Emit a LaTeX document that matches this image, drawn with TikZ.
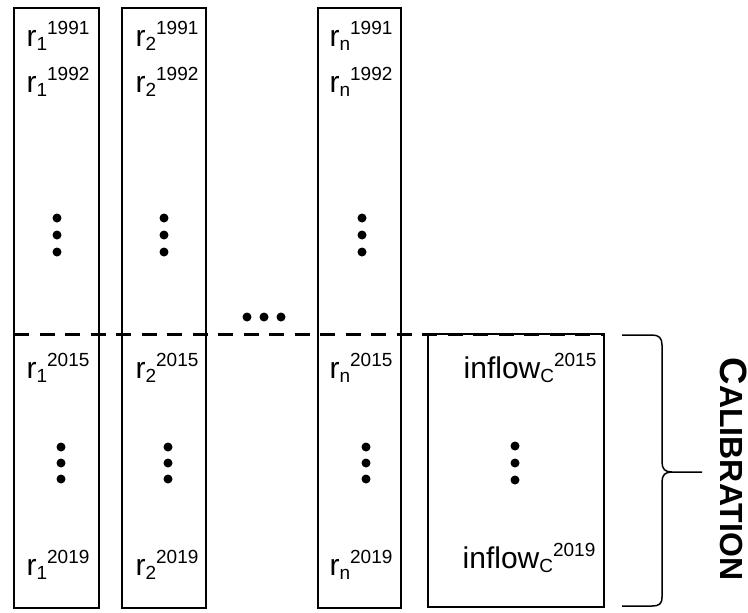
\documentclass[tikz,border=0pt]{standalone}
\usepackage{fontspec}
\setmainfont{Liberation Sans}
\newcommand{\yearval}[3]{#1\raisebox{-2.15pt}{\fontsize{9.5}{10}\selectfont #2}\raisebox{5.7pt}{\fontsize{9.5}{10}\selectfont #3}}

\begin{document}
\begin{tikzpicture}[x=0.5pt, y=-0.5pt,
  colbox/.style={line width=0.85pt},
  cutline/.style={line width=1.5pt, dash pattern=on 7.5pt off 5.25pt},
  yeartext/.style={anchor=base, font=\fontsize{15}{17}\selectfont},
  dot/.style={fill=black},
  bracket/.style={line width=0.75pt}]
\useasboundingbox (0,0) rectangle (748,612);
\draw[colbox] (14,8) rectangle (99,608);
\draw[colbox] (122,8) rectangle (206,608);
\draw[colbox] (318,8) rectangle (401,608);
\draw[colbox] (428,334) rectangle (604,607);
%        \draw[very thin,color=gray] (0,0) grid[step=50] (748,612);
\draw[cutline] (14,334) -- (604,334);

\node[yeartext] (r1a) at (58,46) {\yearval{r}{1}{1991}};
\node[yeartext] (r1b) at (58,92) {\yearval{r}{1}{1992}};
\node[yeartext] (r1c) at (58,378) {\yearval{r}{1}{2015}};
\node[yeartext] (r1d) at (58,575) {\yearval{r}{1}{2019}};
\node[yeartext] (r2a) at (167,46) {\yearval{r}{2}{1991}};
\node[yeartext] (r2b) at (167,92) {\yearval{r}{2}{1992}};
\node[yeartext] (r2c) at (167,378) {\yearval{r}{2}{2015}};
\node[yeartext] (r2d) at (167,575) {\yearval{r}{2}{2019}};
\node[yeartext] (rna) at (361,46) {\yearval{r}{n}{1991}};
\node[yeartext] (rnb) at (361,92) {\yearval{r}{n}{1992}};
\node[yeartext] (rnc) at (361,378) {\yearval{r}{n}{2015}};
\node[yeartext] (rnd) at (361,575) {\yearval{r}{n}{2019}};
\node[yeartext] (inflowa) at (530,378) {\yearval{inflow}{C}{2015}};
\node[yeartext] (inflowb) at (529,568) {\yearval{inflow}{C}{2019}};

\fill[dot] (57,218) circle[radius=2.25pt] (57,235) circle[radius=2.25pt] (57,252) circle[radius=2.25pt];
\fill[dot] (164,218) circle[radius=2.25pt] (164,235) circle[radius=2.25pt] (164,252) circle[radius=2.25pt];
\fill[dot] (362,218) circle[radius=2.25pt] (362,235) circle[radius=2.25pt] (362,252) circle[radius=2.25pt];
\fill[dot] (61,447) circle[radius=2.25pt] (61,463) circle[radius=2.25pt] (61,479) circle[radius=2.25pt];
\fill[dot] (168,447) circle[radius=2.25pt] (168,463) circle[radius=2.25pt] (168,479) circle[radius=2.25pt];
\fill[dot] (366,447) circle[radius=2.25pt] (366,463) circle[radius=2.25pt] (366,479) circle[radius=2.25pt];
\fill[dot] (515,446) circle[radius=2.25pt] (515,463) circle[radius=2.25pt] (515,480) circle[radius=2.25pt];
\fill[dot] (247,317) circle[radius=2.25pt] (264,317) circle[radius=2.25pt] (281,317) circle[radius=2.25pt];

\draw[bracket] (622,335) -- (652,335) .. controls (659,335) and (662,338) .. (662,345)
  -- (662,462) .. controls (662,469) and (665,472) .. (672,472) -- (702,472)
  (672,472) .. controls (665,472) and (662,475) .. (662,482)
  -- (662,597) .. controls (662,604) and (659,606) .. (652,606) -- (622,606);
\node[rotate=-90, anchor=base, font=\bfseries] (calib) at (720,469)
  {{\fontsize{19}{20}\selectfont C}{\fontsize{16}{18}\selectfont ALIBRATION}};

\end{tikzpicture}
\end{document}
